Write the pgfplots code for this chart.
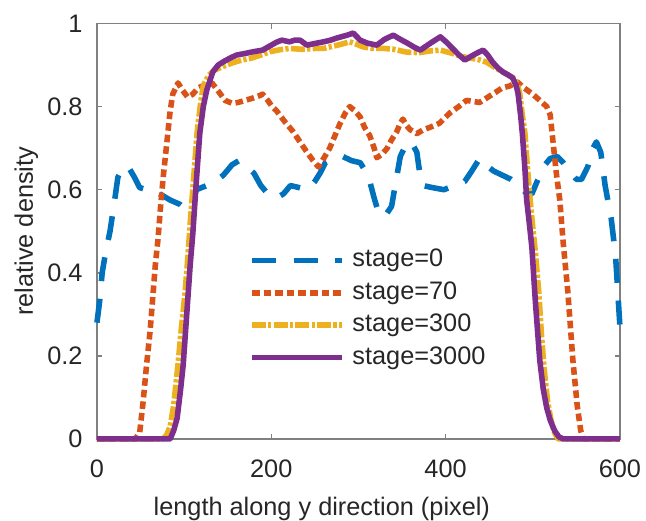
\documentclass[border=0pt]{standalone}
\usepackage{fontspec}
\setmainfont{Liberation Sans}
\usepackage{pgfplots}
\pgfplotsset{compat=1.18}

\definecolor{mblue}{rgb}{0,0.447,0.741}
\definecolor{morange}{rgb}{0.85,0.325,0.098}
\definecolor{myellow}{rgb}{0.929,0.694,0.125}
\definecolor{mpurple}{rgb}{0.494,0.184,0.556}
\definecolor{mtext}{rgb}{0.15,0.15,0.15}

\begin{document}
\begin{tikzpicture}
\begin{axis}[name=ax, scale only axis, width=206.6pt, height=164.1pt,
  xmin=0, xmax=600, ymin=0, ymax=1,
  xtick={0,200,400,600}, ytick={0,0.2,0.4,0.6,0.8,1},
  tick align=inside, major tick length=2pt,
  axis line style={black!50, line width=0.6pt},
  tick style={black!50, line width=0.6pt},
  tick label style={font=\fontsize{10}{12}\selectfont, text=mtext},
  /pgf/number format/assume math mode=true,
  yticklabel style={xshift=-2.2pt},
  xticklabel style={yshift=-4.6pt},
  xlabel={length along y direction (pixel)},
  ylabel={relative density},
  label style={font=\fontsize{10}{12}\selectfont, text=mtext},
  xlabel style={at={(axis description cs:0.43,-0.1853)}, anchor=base},
  ylabel style={at={(axis description cs:-0.1224,0.5)}, anchor=base},
  clip=false,
  legend cell align=left,
  legend style={draw=none, fill=none, at={(axis cs:174,0.47)}, anchor=north west,
    inner sep=0pt, column sep=1.4pt, row sep=0pt,
    nodes={inner sep=1.7pt, text height=7.3pt, text depth=2.1pt, text=mtext,
      font=\fontsize{10}{12}\selectfont}},
  legend image code/.code={\draw[#1] (0pt,0pt) -- (35.5pt,0pt);},
  every axis plot/.append style={line width=2.2pt, line join=round},
]
% stage=0
\addplot[mblue, dash pattern=on 9.5pt off 7pt] coordinates {
(0,0.28)(3,0.33)(6,0.40)(10,0.45)(15,0.50)(20,0.57)(24,0.63)(30,0.655)(36,0.655)(43,0.63)
(49,0.605)(57,0.60)(64,0.60)(72,0.59)(84,0.575)(95,0.565)(103,0.55)(108,0.56)(114,0.60)
(126,0.61)(136,0.62)(145,0.635)(155,0.66)(163,0.67)(172,0.655)(180,0.64)(188,0.61)(196,0.59)
(206,0.58)(214,0.59)(222,0.61)(232,0.605)(242,0.60)(250,0.62)(256,0.64)(262,0.665)(272,0.675)
(282,0.68)(292,0.67)(302,0.665)(308,0.645)(313,0.62)(318,0.58)(323,0.545)(330,0.535)(338,0.56)
(343,0.62)(348,0.68)(356,0.715)(362,0.71)(367,0.69)(370,0.645)(374,0.61)(385,0.605)(398,0.60)
(410,0.61)(422,0.62)(430,0.645)(439,0.675)(446,0.66)(455,0.645)(465,0.635)(475,0.625)(485,0.61)
(493,0.59)(499,0.59)(505,0.62)(512,0.655)(520,0.675)(528,0.68)(535,0.665)(542,0.645)(550,0.625)
(556,0.625)(563,0.655)(569,0.70)(573,0.715)(578,0.69)(583,0.61)(590,0.53)(595,0.44)(600,0.27)};
\addlegendentry{stage=0}
% stage=70
\addplot[morange, dash pattern=on 3pt off 1.6pt] coordinates {
(0,0)(44,0)(49,0.015)(53,0.09)(57,0.18)(61,0.26)(64,0.34)(67,0.42)(70,0.48)(73,0.56)(76,0.63)
(80,0.71)(84,0.79)(87,0.83)(93,0.857)(98,0.84)(104,0.823)(110,0.83)(116,0.845)(124,0.852)
(132,0.857)(140,0.835)(147,0.815)(155,0.808)(162,0.81)(170,0.815)(178,0.82)(185,0.825)(190,0.83)
(196,0.815)(201,0.80)(206,0.79)(215,0.765)(225,0.74)(233,0.715)(241,0.69)(248,0.67)(254,0.655)
(260,0.675)(267,0.70)(273,0.73)(279,0.76)(285,0.785)(290,0.80)(296,0.79)(302,0.775)(307,0.75)
(313,0.73)(318,0.70)(321,0.677)(327,0.685)(333,0.70)(338,0.72)(344,0.74)(348,0.76)(351,0.77)
(355,0.755)(359,0.745)(367,0.735)(375,0.745)(382,0.75)(393,0.76)(405,0.785)(415,0.80)(424,0.815)
(439,0.81)(454,0.83)(465,0.845)(474,0.85)(482,0.86)(490,0.845)(500,0.83)(508,0.815)(516,0.80)
(520,0.78)(523,0.72)(527,0.64)(531,0.575)(535,0.47)(540,0.36)(546,0.19)(551,0.08)(555,0.02)
(558,0)(600,0)};
\addlegendentry{stage=70}
% stage=300
\addplot[myellow, dash pattern=on 5.5pt off 0.9pt on 1.3pt off 0.9pt] coordinates {
(0,0)(76,0)(80,0.01)(84,0.03)(88,0.08)(93,0.18)(97,0.27)(101,0.35)(104,0.43)(107,0.52)(111,0.63)
(115,0.74)(119,0.81)(122,0.85)(128,0.875)(135,0.888)(145,0.897)(155,0.905)(166,0.912)(176,0.916)
(188,0.924)(198,0.932)(210,0.937)(221,0.94)(235,0.938)(250,0.94)(260,0.94)(270,0.945)(280,0.95)
(290,0.956)(298,0.95)(305,0.944)(317,0.94)(330,0.94)(340,0.938)(356,0.931)(370,0.93)(382,0.934)
(394,0.936)(408,0.928)(420,0.92)(431,0.916)(440,0.912)(447,0.907)(456,0.895)(466,0.883)(477,0.87)
(482,0.855)(485,0.833)(488,0.78)(491,0.736)(494,0.65)(497,0.575)(500,0.51)(503,0.45)(507,0.35)
(510,0.25)(513,0.17)(517,0.09)(521,0.045)(525,0.015)(529,0)(600,0)};
\addlegendentry{stage=300}
% stage=3000
\addplot[mpurple] coordinates {
(0,0)(84,0)(88,0.02)(92,0.05)(96,0.12)(99,0.18)(103,0.30)(107,0.42)(110,0.495)(114,0.62)
(118,0.736)(122,0.80)(126,0.84)(133,0.884)(139,0.90)(145,0.908)(152,0.916)(160,0.924)(170,0.928)
(179,0.932)(190,0.936)(200,0.948)(206,0.955)(212,0.96)(221,0.956)(227,0.96)(233,0.96)(241,0.948)
(250,0.952)(260,0.956)(268,0.96)(275,0.965)(287,0.972)(294,0.977)(302,0.96)(310,0.953)(321,0.948)
(330,0.962)(340,0.972)(348,0.962)(356,0.953)(364,0.943)(371,0.936)(382,0.952)(394,0.968)(401,0.955)
(408,0.94)(415,0.925)(422,0.912)(430,0.922)(436,0.929)(443,0.936)(448,0.925)(454,0.907)(460,0.893)
(466,0.883)(472,0.876)(477,0.869)(481,0.85)(483,0.833)(486,0.78)(488,0.736)(491,0.65)(493,0.575)
(496,0.52)(499,0.46)(503,0.33)(508,0.19)(512,0.12)(516,0.075)(520,0.045)(525,0.02)(530,0.005)
(535,0)(600,0)};
\addlegendentry{stage=3000}
\end{axis}
\pgfresetboundingbox
\path[use as bounding box] ([xshift=-38.3pt,yshift=-32.4pt]ax.south west) rectangle ([xshift=10.3pt,yshift=9.3pt]ax.north east);
\end{tikzpicture}
\end{document}
